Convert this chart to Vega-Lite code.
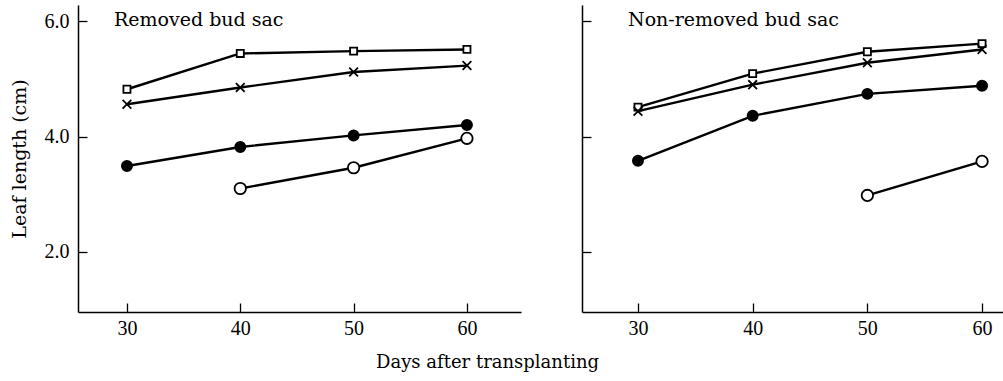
{
  "$schema": "https://vega.github.io/schema/vega-lite/v6.json",
  "padding": {"left": 10, "top": 5, "right": 0, "bottom": 5},
  "background": "white",
  "title": {"text": "Days after transplanting", "orient": "bottom", "anchor": "middle", "offset": 16, "dx": -20, "font": "DejaVu Serif", "fontSize": 18, "fontWeight": "normal", "color": "black"},
  "config": {
    "view": {"stroke": null},
    "axis": {"grid": false, "domainColor": "black", "domainWidth": 1.5, "tickColor": "black", "tickWidth": 1.3, "labelColor": "black", "titleColor": "black", "labelFont": "Liberation Serif", "labelFontSize": 20, "titleFont": "DejaVu Serif", "titleFontWeight": "normal"}
  },
  "data": {"values": [
    {"panel": "R", "series": "square", "day": 30, "len": 4.82},
    {"panel": "R", "series": "square", "day": 40, "len": 5.44},
    {"panel": "R", "series": "square", "day": 50, "len": 5.48},
    {"panel": "R", "series": "square", "day": 60, "len": 5.51},
    {"panel": "R", "series": "cross", "day": 30, "len": 4.56},
    {"panel": "R", "series": "cross", "day": 40, "len": 4.85},
    {"panel": "R", "series": "cross", "day": 50, "len": 5.12},
    {"panel": "R", "series": "cross", "day": 60, "len": 5.23},
    {"panel": "R", "series": "filled", "day": 30, "len": 3.49},
    {"panel": "R", "series": "filled", "day": 40, "len": 3.82},
    {"panel": "R", "series": "filled", "day": 50, "len": 4.02},
    {"panel": "R", "series": "filled", "day": 60, "len": 4.2},
    {"panel": "R", "series": "open", "day": 40, "len": 3.1},
    {"panel": "R", "series": "open", "day": 50, "len": 3.46},
    {"panel": "R", "series": "open", "day": 60, "len": 3.97},
    {"panel": "N", "series": "square", "day": 30, "len": 4.51},
    {"panel": "N", "series": "square", "day": 40, "len": 5.09},
    {"panel": "N", "series": "square", "day": 50, "len": 5.47},
    {"panel": "N", "series": "square", "day": 60, "len": 5.61},
    {"panel": "N", "series": "cross", "day": 30, "len": 4.44},
    {"panel": "N", "series": "cross", "day": 40, "len": 4.9},
    {"panel": "N", "series": "cross", "day": 50, "len": 5.28},
    {"panel": "N", "series": "cross", "day": 60, "len": 5.51},
    {"panel": "N", "series": "filled", "day": 30, "len": 3.58},
    {"panel": "N", "series": "filled", "day": 40, "len": 4.36},
    {"panel": "N", "series": "filled", "day": 50, "len": 4.74},
    {"panel": "N", "series": "filled", "day": 60, "len": 4.88},
    {"panel": "N", "series": "open", "day": 50, "len": 2.98},
    {"panel": "N", "series": "open", "day": 60, "len": 3.57}
  ]},
  "spacing": 60,
  "hconcat": [
    {
      "width": 443,
      "height": 307,
      "title": {"text": "Removed bud sac", "anchor": "start", "frame": "group", "orient": "top", "baseline": "top", "offset": -22, "dx": 36, "dy": 3, "font": "DejaVu Serif", "fontSize": 19, "fontWeight": "normal", "color": "black"},
      "transform": [{"filter": "datum.panel === 'R'"}],
      "encoding": {
        "x": {"field": "day", "type": "quantitative", "scale": {"domain": [25.68, 64.77], "nice": false, "zero": false},
          "axis": {"values": [30, 40, 50, 60], "tickSize": -9, "labelPadding": 15, "title": null}},
        "y": {"field": "len", "type": "quantitative", "scale": {"domain": [0.96, 6.28], "nice": false, "zero": false},
          "axis": {"values": [2, 4, 6], "format": ".1f", "tickSize": -9, "labelPadding": 18, "title": "Leaf length (cm)", "titleFontSize": 19, "titlePadding": 15}}
      },
      "layer": [
        {"mark": {"type": "line", "color": "black", "strokeWidth": 2.4}, "encoding": {"detail": {"field": "series"}}},
        {"mark": {"type": "point", "stroke": "black", "strokeWidth": 1.8, "opacity": 1, "filled": false},
          "encoding": {
            "shape": {"field": "series", "scale": {"domain": ["square", "cross", "filled", "open"], "range": ["square", "M-1,-1L1,1M1,-1L-1,1", "circle", "circle"]}, "legend": null},
            "fill": {"field": "series", "scale": {"domain": ["square", "cross", "filled", "open"], "range": ["white", "transparent", "black", "white"]}, "legend": null},
            "size": {"field": "series", "scale": {"domain": ["square", "cross", "filled", "open"], "range": [50, 130, 110, 100]}, "legend": null}
          }}
      ]
    },
    {
      "width": 423,
      "height": 307,
      "title": {"text": "Non-removed bud sac", "anchor": "start", "frame": "group", "orient": "top", "baseline": "top", "offset": -22, "dx": 46, "dy": 3, "font": "DejaVu Serif", "fontSize": 19, "fontWeight": "normal", "color": "black"},
      "transform": [{"filter": "datum.panel === 'N'"}],
      "encoding": {
        "x": {"field": "day", "type": "quantitative", "scale": {"domain": [25.12, 62.0], "nice": false, "zero": false},
          "axis": {"values": [30, 40, 50, 60], "tickSize": -9, "labelPadding": 15, "title": null}},
        "y": {"field": "len", "type": "quantitative", "scale": {"domain": [0.96, 6.28], "nice": false, "zero": false},
          "axis": {"values": [2, 4, 6], "tickSize": -9, "labels": false, "title": null}}
      },
      "layer": [
        {"mark": {"type": "line", "color": "black", "strokeWidth": 2.4}, "encoding": {"detail": {"field": "series"}}},
        {"mark": {"type": "point", "stroke": "black", "strokeWidth": 1.8, "opacity": 1, "filled": false},
          "encoding": {
            "shape": {"field": "series", "scale": {"domain": ["square", "cross", "filled", "open"], "range": ["square", "M-1,-1L1,1M1,-1L-1,1", "circle", "circle"]}, "legend": null},
            "fill": {"field": "series", "scale": {"domain": ["square", "cross", "filled", "open"], "range": ["white", "transparent", "black", "white"]}, "legend": null},
            "size": {"field": "series", "scale": {"domain": ["square", "cross", "filled", "open"], "range": [50, 130, 110, 100]}, "legend": null}
          }}
      ]
    }
  ]
}
